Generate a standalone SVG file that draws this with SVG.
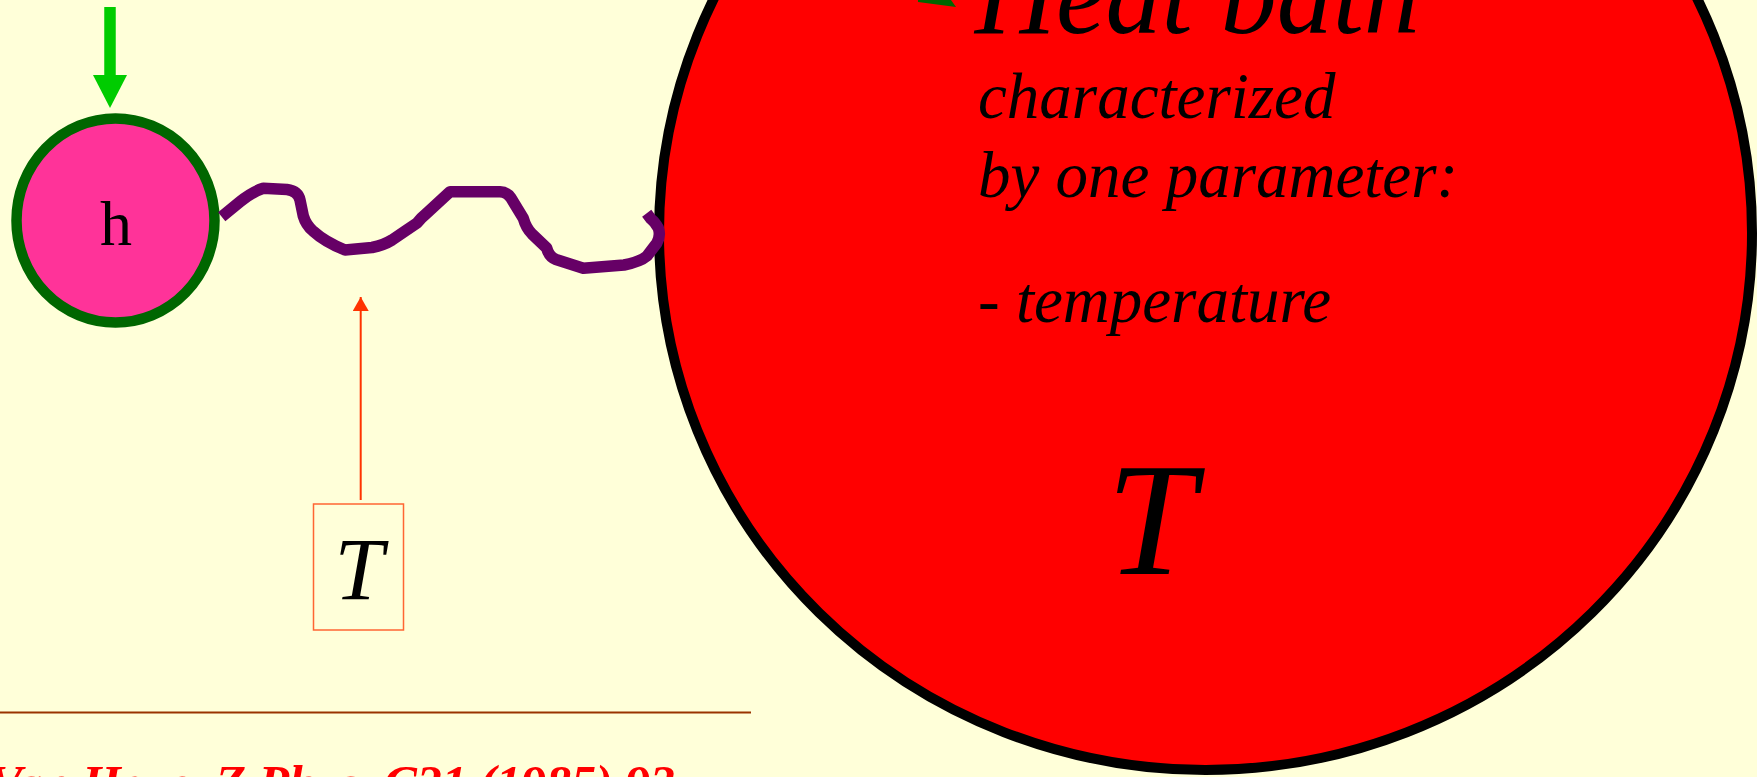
<svg xmlns="http://www.w3.org/2000/svg" width="1757" height="777" viewBox="0 0 1757 777">
<style>
.serif{font-family:"Liberation Serif","Times New Roman",serif}
.it{font-style:italic}
.bath{font-size:65px;fill:#000}
</style>
<defs>
<marker id="redhead" markerWidth="16" markerHeight="16" refX="14" refY="8" orient="auto" markerUnits="userSpaceOnUse" viewBox="0 0 16 16">
<path d="M0,0 L14,8 L0,16 Z" fill="#FF3300"/>
</marker>
</defs>
<rect x="0" y="0" width="1757" height="777" fill="#FFFFD9"/>

<g id="heat-bath">
<ellipse cx="1205.5" cy="233" rx="546.5" ry="537" fill="#FF0000" stroke="#000" stroke-width="10"/>
<text class="serif it" x="975" y="33" font-size="112">Heat bath</text>
<text class="serif it bath" x="978" y="118">characterized</text>
<text class="serif it bath" x="978" y="197">by one parameter:</text>
<text class="serif it bath" x="978" y="322">- temperature</text>
<text class="serif it" x="1151" y="574" font-size="160" text-anchor="middle">T</text>
</g>

<g id="green-tip">
<polygon points="918,0 918,2 956,7 951,0" fill="#006600"/>
</g>

<g id="particle-h">
<ellipse cx="115.5" cy="220.5" rx="99" ry="102" fill="#FF3399" stroke="#006600" stroke-width="10.5"/>
<text class="serif" x="116" y="245" font-size="64" text-anchor="middle">h</text>
</g>

<g id="T-box">
<rect x="313.5" y="504" width="90" height="126" fill="none" stroke="#FF6633" stroke-width="1.5"/>
<text class="serif it" x="359" y="599" font-size="88" text-anchor="middle">T</text>
</g>

<g id="connectors">
<line x1="110" y1="7" x2="110" y2="78" stroke="#00CC00" stroke-width="11.5"/>
<polygon points="93,75 127,75 110,108" fill="#00CC00"/>
<path d="M221.7,216.7 L240,201.7 Q252,192 263.3,188.3 L287,189.5 Q298,191 300,200 L303.3,216 Q306,225 313,231 Q325,242 345,250 L372,247.5 Q384,245 392,240 L406.7,230 L416.7,223.3 Q421,218 426.7,213.3 L450,191.7 L500,191.7 Q507,192 511,198 L523.3,218.3 Q526,228 532,234 L546.7,248 Q549,257 556,259.5 L583.3,268.3 L624,265 Q640,262 647,256 L656.7,243.3 Q661,236 658.3,228 Q655,222 651,219 L646.7,213.3" fill="none" stroke="#660066" stroke-width="11.5" stroke-linejoin="round"/>
<line x1="360.7" y1="500" x2="360.7" y2="297" stroke="#FF3300" stroke-width="2" marker-end="url(#redhead)"/>
</g>

<g id="footer">
<line x1="0" y1="712.5" x2="751" y2="712.5" stroke="#993300" stroke-width="2"/>
<text class="serif it" x="-11" y="800" font-size="50" font-weight="bold" fill="#FF0000">Van Hove, Z.Phys. C21 (1985) 93</text>
</g>
</svg>
